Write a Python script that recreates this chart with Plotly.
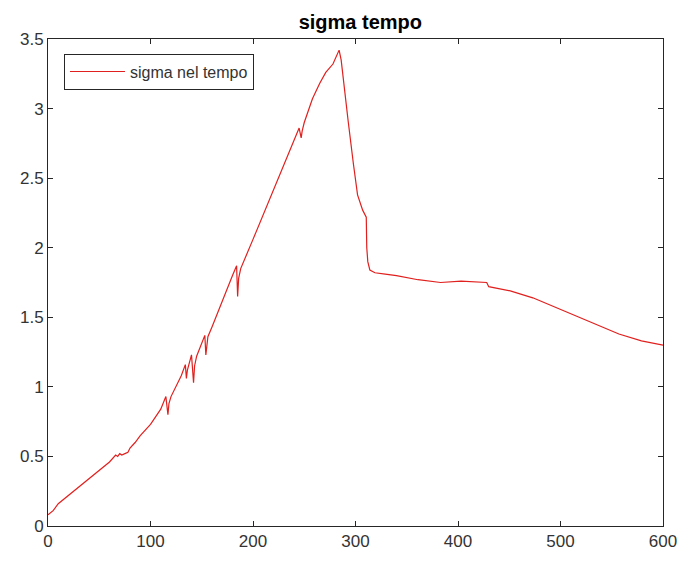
import plotly.graph_objects as go

x_vals = [0, 5, 10, 20, 30, 40, 50, 60, 66, 68, 70, 72, 75, 78, 80, 85, 90, 100, 110, 115, 117, 118,
          120, 125, 130, 134, 135, 136, 138, 140, 142, 143, 145, 150, 153, 154, 156, 160, 170, 180,
          184, 185, 186, 188, 200, 210, 220, 230, 240, 245, 247, 248, 250, 258, 265, 271, 278, 284,
          286, 290, 293, 298, 302, 307, 310.5, 311, 312, 314, 319, 329, 340, 361, 383, 403, 428,
          430, 451, 473, 499, 531, 557, 579, 600]
sigma_vals = [0.08, 0.11, 0.16, 0.22, 0.28, 0.34, 0.40, 0.46, 0.51, 0.50, 0.52, 0.51, 0.52, 0.53,
              0.56, 0.60, 0.65, 0.73, 0.84, 0.93, 0.80, 0.88, 0.93, 1.00, 1.08, 1.16, 1.06, 1.12,
              1.17, 1.23, 1.03, 1.15, 1.22, 1.32, 1.37, 1.23, 1.36, 1.43, 1.62, 1.80, 1.87, 1.65,
              1.78, 1.85, 2.06, 2.24, 2.42, 2.60, 2.78, 2.86, 2.79, 2.84, 2.90, 3.07, 3.18, 3.26,
              3.32, 3.42, 3.35, 3.07, 2.90, 2.60, 2.38, 2.27, 2.22, 2.00, 1.90, 1.84, 1.82, 1.81,
              1.80, 1.77, 1.75, 1.76, 1.75, 1.72, 1.69, 1.64, 1.56, 1.46, 1.38, 1.33, 1.30]

x_ticks = [0, 100, 200, 300, 400, 500, 600]
y_ticks = [0, 0.5, 1, 1.5, 2, 2.5, 3, 3.5]
y_tick_labels = ["0", "0.5", "1", "1.5", "2", "2.5", "3", "3.5"]

axis_color = "#262626"
font_family = "Liberation Sans, Arial, Helvetica, sans-serif"

fig = go.Figure()
fig.add_trace(go.Scatter(
    x=x_vals, y=sigma_vals, mode="lines", name="sigma nel tempo",
    line=dict(color="#E0201E", width=1.2),
))

axis_common = dict(
    showline=True, linecolor=axis_color, linewidth=1, mirror="ticks",
    ticks="inside", ticklen=5, tickcolor=axis_color, tickwidth=1,
    showgrid=False, zeroline=False,
    tickfont=dict(family=font_family, size=17, color="#333333"),
)

fig.update_layout(
    width=689, height=563,
    margin=dict(l=48, r=17, t=39, b=30),
    paper_bgcolor="white", plot_bgcolor="white",
    title=dict(text="<b>sigma tempo</b>", x=0.523, xanchor="center", y=1 - 22 / 563, yanchor="middle",
               font=dict(family=font_family, size=20, color="#000000")),
    xaxis=dict(range=[0, 600], tickvals=x_ticks, **axis_common),
    yaxis=dict(range=[0, 3.5], tickvals=y_ticks, ticktext=y_tick_labels, **axis_common),
    showlegend=True,
    legend=dict(x=0.026, y=0.97, xanchor="left", yanchor="top",
                bgcolor="white", bordercolor=axis_color, borderwidth=1,
                font=dict(family=font_family, size=16, color="#333333"),
                itemwidth=55, tracegroupgap=0),
)

fig.write_html("out.html")
